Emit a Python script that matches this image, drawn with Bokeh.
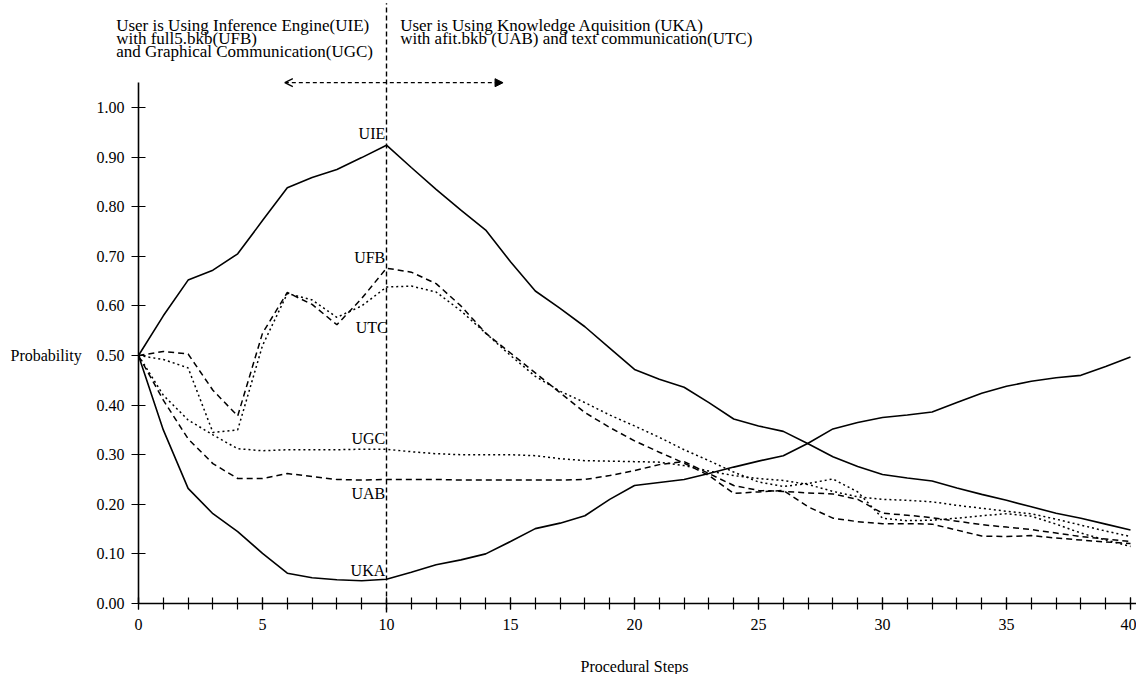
from bokeh.plotting import figure
from bokeh.models import Label, Arrow, OpenHead, NormalHead, FixedTicker, NumeralTickFormatter, Range1d
from bokeh.embed import file_html
from bokeh.resources import INLINE
from bokeh.core.properties import value

steps = list(range(41))

uie = [0.500, 0.580, 0.652, 0.672, 0.705, 0.772, 0.838, 0.859, 0.875, 0.899, 0.924,
       0.879, 0.835, 0.793, 0.753, 0.689, 0.630, 0.595, 0.558, 0.515, 0.472,
       0.452, 0.436, 0.405, 0.372, 0.358, 0.347, 0.322, 0.296, 0.276, 0.260,
       0.253, 0.247, 0.233, 0.220, 0.208, 0.195, 0.182, 0.172, 0.160, 0.148]

uka = [0.500, 0.350, 0.232, 0.181, 0.145, 0.101, 0.061, 0.052, 0.048, 0.046, 0.049,
       0.063, 0.078, 0.088, 0.100, 0.125, 0.151, 0.162, 0.177, 0.210, 0.238,
       0.244, 0.250, 0.262, 0.275, 0.287, 0.298, 0.323, 0.352, 0.365, 0.375,
       0.380, 0.386, 0.405, 0.424, 0.438, 0.448, 0.455, 0.460, 0.478, 0.497]

ufb = [0.500, 0.508, 0.503, 0.430, 0.378, 0.545, 0.627, 0.603, 0.562, 0.615, 0.676,
       0.668, 0.645, 0.600, 0.545, 0.505, 0.465, 0.425, 0.385, 0.355, 0.328,
       0.305, 0.283, 0.258, 0.222, 0.225, 0.228, 0.195, 0.172, 0.165, 0.161,
       0.161, 0.160, 0.148, 0.136, 0.135, 0.137, 0.132, 0.128, 0.124, 0.121]

utc = [0.500, 0.492, 0.475, 0.345, 0.350, 0.520, 0.625, 0.612, 0.577, 0.600, 0.638,
       0.640, 0.628, 0.590, 0.545, 0.500, 0.458, 0.428, 0.405, 0.380, 0.358,
       0.335, 0.310, 0.288, 0.265, 0.245, 0.236, 0.242, 0.251, 0.225, 0.172,
       0.167, 0.168, 0.172, 0.177, 0.181, 0.176, 0.160, 0.142, 0.128, 0.115]

ugc = [0.500, 0.420, 0.370, 0.340, 0.312, 0.308, 0.310, 0.310, 0.310, 0.311, 0.311,
       0.306, 0.302, 0.300, 0.300, 0.300, 0.298, 0.292, 0.288, 0.287, 0.286,
       0.285, 0.278, 0.267, 0.258, 0.252, 0.248, 0.240, 0.226, 0.215, 0.210,
       0.208, 0.205, 0.198, 0.192, 0.186, 0.181, 0.170, 0.158, 0.146, 0.135]

uab = [0.500, 0.410, 0.332, 0.282, 0.252, 0.252, 0.262, 0.256, 0.250, 0.249, 0.250,
       0.250, 0.250, 0.249, 0.249, 0.249, 0.249, 0.249, 0.250, 0.258, 0.268,
       0.280, 0.286, 0.262, 0.238, 0.228, 0.226, 0.223, 0.221, 0.210, 0.182,
       0.178, 0.173, 0.166, 0.159, 0.154, 0.149, 0.142, 0.135, 0.130, 0.125]

curve_labels = ["UIE", "UFB", "UTC", "UGC", "UAB", "UKA"]
curve_label_x = [9.95, 9.95, 10.05, 9.95, 9.95, 9.95]
curve_label_y = [0.948, 0.698, 0.556, 0.333, 0.222, 0.066]

x_major = [0, 5, 10, 15, 20, 25, 30, 35, 40]
y_major = [0.0, 0.1, 0.2, 0.3, 0.4, 0.5, 0.6, 0.7, 0.8, 0.9, 1.0]

left_text = ["User is Using Inference Engine(UIE)",
             "with full5.bkb(UFB)",
             "and Graphical Communication(UGC)"]
right_text = ["User is Using Knowledge Aquisition (UKA)",
              "with afit.bkb (UAB) and text communication(UTC)"]

FONT = "Liberation Serif"

# layout: 24.8 px per step, 496 px per unit of probability
X0_PX, Y0_PX, W, H = 138, 603, 1136, 674
PX_X, PX_Y = 24.8, 496.0
xr = Range1d(-X0_PX / PX_X, (W - X0_PX) / PX_X)
yr = Range1d(-(H - Y0_PX) / PX_Y, Y0_PX / PX_Y)

p = figure(width=W, height=H, output_backend="svg", toolbar_location=None,
           x_range=xr, y_range=yr,
           min_border_left=0, min_border_right=0, min_border_top=0, min_border_bottom=0)
p.outline_line_color = None
p.grid.visible = False
p.background_fill_color = "white"

# x axis
xa = p.xaxis[0]
xa.fixed_location = 0
xa.bounds = (0, 40.4)
xa.ticker = FixedTicker(ticks=x_major, minor_ticks=steps)
xa.major_tick_in = 6
xa.major_tick_out = 6
xa.minor_tick_in = 6
xa.minor_tick_out = 6
xa.axis_line_width = 1.6
xa.major_tick_line_width = 1.2
xa.minor_tick_line_width = 1.2
xa.major_label_text_font = FONT
xa.major_label_text_font_size = "16px"
xa.major_label_text_color = "black"
xa.major_label_standoff = 9

# y axis
ya = p.yaxis[0]
ya.fixed_location = 0
ya.ticker = FixedTicker(ticks=y_major, minor_ticks=[])
ya.formatter = NumeralTickFormatter(format="0.00")
ya.bounds = (0, 1.05)
ya.major_tick_in = 7
ya.major_tick_out = 7
ya.axis_line_width = 1.6
ya.major_tick_line_width = 1.2
ya.major_label_text_font = FONT
ya.major_label_text_font_size = "16px"
ya.major_label_text_color = "black"
ya.major_label_standoff = 7

# axis titles
p.add_layout(Label(x=-5.16, y=0.5, text="Probability", text_font=FONT, text_font_size="16px",
                   text_baseline="middle", text_align="left", text_color="black"))
p.add_layout(Label(x=20.0, y=-0.128, text="Procedural Steps", text_font=FONT,
                   text_font_size="16px", text_baseline="middle", text_align="center",
                   text_color="black"))

# curves
p.line(steps, uie, line_color="black", line_width=1.6)
p.line(steps, uka, line_color="black", line_width=1.6)
p.line(steps, ufb, line_color="black", line_width=1.5, line_dash="6 4")
p.line(steps, uab, line_color="black", line_width=1.5, line_dash="6 4")
p.line(steps, utc, line_color="black", line_width=1.5, line_dash="2 3")
p.line(steps, ugc, line_color="black", line_width=1.5, line_dash="2 3")

p.text(x=curve_label_x, y=curve_label_y, text=curve_labels, text_align="right",
       text_baseline="middle", text_font=value(FONT), text_font_size="16px",
       text_color="black")

# divider at step 10
divider_x = [10]
divider_y0 = [-0.018]
divider_y1 = [1.21]
p.segment(x0=divider_x, y0=divider_y0, x1=divider_x, y1=divider_y1,
          line_color="black", line_dash="5 3", line_width=1.4)

# double arrow
p.add_layout(Arrow(start=OpenHead(size=8, line_width=1.3),
                   end=NormalHead(size=8, fill_color="black", line_width=1),
                   x_start=5.9, y_start=1.05, x_end=14.7, y_end=1.05,
                   line_dash="4 3", line_width=1.3))

# header texts
left_y = [1.165, 1.139, 1.113]
for t, yy in zip(left_text, left_y):
    p.add_layout(Label(x=-0.9, y=yy, text=t, text_font=FONT, text_font_size="17px",
                       text_baseline="alphabetic", text_color="black"))
right_y = [1.165, 1.139]
for t, yy in zip(right_text, right_y):
    p.add_layout(Label(x=10.55, y=yy, text=t, text_font=FONT, text_font_size="17px",
                       text_baseline="alphabetic", text_color="black"))

open("out.html", "w").write(file_html(p, INLINE))
